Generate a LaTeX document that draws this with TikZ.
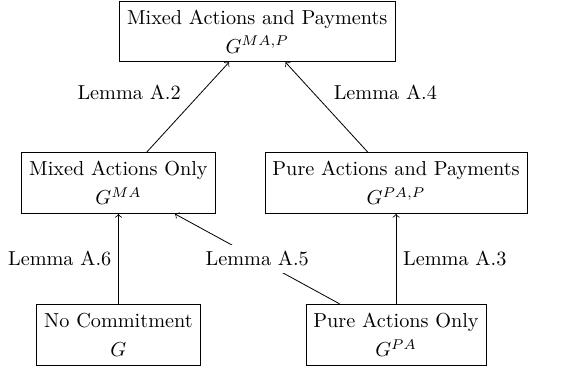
\documentclass[tikz,border=0pt]{standalone}
\usepackage{tikz}
\usetikzlibrary{positioning}

\begin{document}
\begin{tikzpicture}[>=to]
        \tikzset{gbox/.style= {draw, rectangle, align=center, inner xsep=3.7pt, inner ysep=2pt,
                 minimum height=30.1pt, font=\fontsize{10}{14.3}\selectfont},
        lemma/.style={font=\fontsize{10}{12}\selectfont},
        }
        \useasboundingbox (-58.5pt,-91.4pt) rectangle (223.5pt,90.4pt);
        \node [gbox]  (mixed) {Mixed Actions Only\\$G^{MA}$};
        \node [gbox, right=24.2pt of mixed] (purepay) {Pure Actions and Payments\\$G^{PA,P}$};
        \node [gbox, below=44.4pt of mixed] (nocommit) {No Commitment\\$G$};
        \node [gbox, below=44.4pt of purepay] (pure) {Pure Actions Only\\$G^{PA}$};
        \path (mixed.north) -- (purepay.north) coordinate[midway] (mtop);  %% between the two middle boxes
        \node [gbox, above=44.4pt of mtop] (mixpay) {Mixed Actions and Payments\\$G^{MA,P}$};

%% paths
        \path[draw,->] (mixed) edge node[lemma, above left] {Lemma A.2} (mixpay)
                    (purepay) edge node[lemma, above right] {Lemma A.4} (mixpay)
                    (nocommit) edge node[lemma, left] {Lemma A.6} (mixed)
                    (pure) edge node[lemma, right] {Lemma A.3} (purepay)
                    (pure) edge node[lemma, fill=white] {Lemma A.5} (mixed)
                    ;
    \end{tikzpicture}
\end{document}
